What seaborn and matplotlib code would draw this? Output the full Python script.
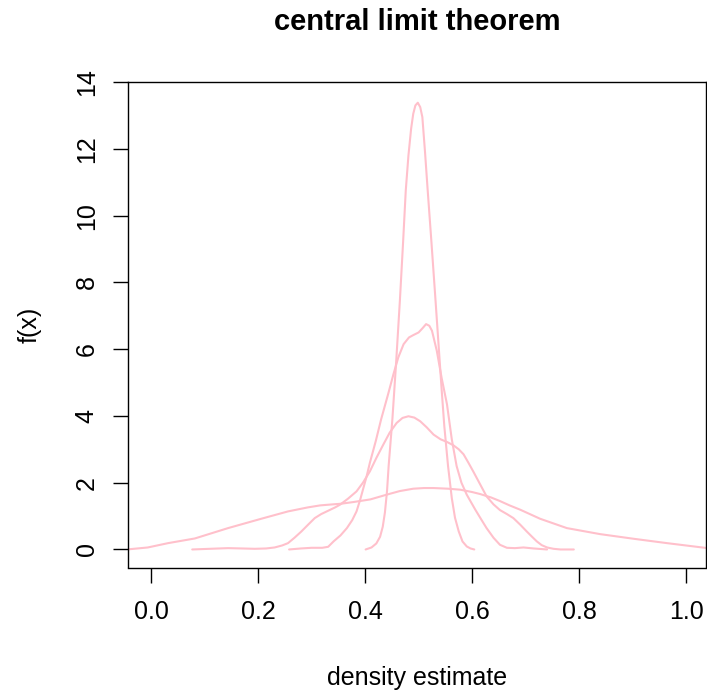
import matplotlib
matplotlib.use("Agg")
import matplotlib.pyplot as plt
import seaborn as sns
import pandas as pd

# density curves of sample means
a_x = [-0.045, -0.006, 0.032, 0.082, 0.144, 0.206, 0.256, 0.293, 0.316, 0.331, 0.355, 0.378,
       0.41, 0.44, 0.465, 0.49, 0.51, 0.528, 0.555, 0.578, 0.6, 0.615, 0.635, 0.652, 0.67,
       0.69, 0.727, 0.777, 0.839, 0.902, 0.964, 1.045]
a_y = [0.0, 0.06, 0.19, 0.33, 0.64, 0.92, 1.14, 1.26, 1.32, 1.34, 1.37, 1.42,
       1.5, 1.64, 1.75, 1.82, 1.84, 1.84, 1.82, 1.79, 1.72, 1.66, 1.56, 1.45, 1.32,
       1.19, 0.92, 0.64, 0.46, 0.32, 0.19, 0.03]

b_x = [0.077, 0.11, 0.144, 0.17, 0.194, 0.215, 0.231, 0.245, 0.256, 0.268, 0.281, 0.294,
       0.306, 0.318, 0.331, 0.344, 0.353, 0.368, 0.384, 0.396, 0.409, 0.421, 0.434, 0.446,
       0.459, 0.47, 0.481, 0.492, 0.503, 0.515, 0.528, 0.541, 0.553, 0.565, 0.575, 0.584,
       0.593, 0.602, 0.615, 0.627, 0.64, 0.652, 0.665, 0.677, 0.69, 0.702, 0.712, 0.721,
       0.73, 0.74, 0.752, 0.765, 0.79]
b_y = [0.0, 0.02, 0.04, 0.03, 0.02, 0.03, 0.06, 0.12, 0.19, 0.35, 0.54, 0.75,
       0.94, 1.06, 1.16, 1.26, 1.34, 1.52, 1.74, 2.0, 2.34, 2.74, 3.14, 3.5,
       3.79, 3.94, 3.99, 3.95, 3.84, 3.66, 3.44, 3.3, 3.22, 3.12, 3.0, 2.85,
       2.6, 2.34, 1.95, 1.59, 1.35, 1.18, 1.06, 0.94, 0.74, 0.54, 0.38, 0.24,
       0.13, 0.06, 0.02, 0.0, 0.0]

c_x = [0.258, 0.28, 0.30, 0.32, 0.331, 0.341, 0.354, 0.366, 0.376, 0.384, 0.391, 0.397,
       0.403, 0.409, 0.42, 0.43, 0.443, 0.453, 0.462, 0.472, 0.482, 0.49, 0.5,
       0.507, 0.514, 0.52, 0.525, 0.534, 0.543, 0.553, 0.562, 0.571, 0.58, 0.59, 0.606,
       0.617, 0.627, 0.64, 0.652, 0.665, 0.68, 0.696, 0.715, 0.74]
c_y = [0.0, 0.03, 0.05, 0.05, 0.08, 0.24, 0.42, 0.64, 0.88, 1.14, 1.5, 1.85,
       2.2, 2.6, 3.25, 3.9, 4.65, 5.25, 5.75, 6.15, 6.35, 6.42, 6.5,
       6.62, 6.75, 6.7, 6.55, 5.95, 5.14, 4.35, 3.3, 2.5, 2.0, 1.64, 1.19,
       0.9, 0.64, 0.35, 0.14, 0.05, 0.04, 0.06, 0.03, 0.0]

d_x = [0.401, 0.412, 0.421, 0.428, 0.433, 0.437, 0.441, 0.444, 0.451, 0.458, 0.465, 0.471,
       0.476, 0.481, 0.486, 0.490, 0.494, 0.4985, 0.503, 0.507, 0.512, 0.517, 0.524, 0.531,
       0.537, 0.543, 0.548, 0.555, 0.562, 0.568, 0.575, 0.582, 0.59, 0.597, 0.604]
d_y = [0.0, 0.06, 0.18, 0.38, 0.68, 1.1, 1.75, 2.5, 3.9, 5.6, 7.45, 9.2,
       10.75, 11.8, 12.6, 13.05, 13.3, 13.38, 13.25, 12.95, 11.9, 10.75, 9.2, 7.6,
       6.2, 4.8, 3.7, 2.5, 1.54, 0.95, 0.54, 0.24, 0.09, 0.03, 0.0]

x_ticks = [0.0, 0.2, 0.4, 0.6, 0.8, 1.0]
y_ticks = [0, 2, 4, 6, 8, 10, 12, 14]

frames = []
for name, xs, ys in [("a", a_x, a_y), ("b", b_x, b_y), ("c", c_x, c_y), ("d", d_x, d_y)]:
    frames.append(pd.DataFrame({"curve": name, "x": xs, "y": ys}))
df = pd.concat(frames, ignore_index=True)

sns.set_style("white")
plt.rcParams["font.family"] = ["Liberation Sans", "DejaVu Sans"]
plt.rcParams["text.color"] = "black"
plt.rcParams["axes.labelcolor"] = "black"

W, H = 707, 690
fig = plt.figure(figsize=(W / 100, H / 100), dpi=100)
ax = fig.add_axes([128 / W, 1 - 567.5 / H, (706 - 128) / W, (567.5 - 81.7) / H])

sns.lineplot(data=df, x="x", y="y", units="curve", estimator=None, sort=False,
             color="#FFC0CB", linewidth=1.5, ax=ax)

ax.set_xlim(-0.043, 1.037)
ax.set_ylim(-0.54, 14.01)
ax.set_xticks(x_ticks)
ax.set_xticklabels([f"{v:.1f}" for v in x_ticks])
ax.set_yticks(y_ticks)
ax.set_yticklabels([str(v) for v in y_ticks], rotation=90, va="center")
ax.tick_params(axis="both", direction="out", length=11, width=1, color="black",
               labelsize=18, labelcolor="black", bottom=True, left=True)
ax.tick_params(axis="x", pad=12.5)
ax.tick_params(axis="y", pad=10)
for s in ax.spines.values():
    s.set_visible(True)
    s.set_color("black")
    s.set_linewidth(1)

ax.set_xlabel("density estimate", fontsize=18, labelpad=30, color="black")
ax.set_ylabel("f(x)", fontsize=18, labelpad=24, color="black")
ax.set_title("central limit theorem", fontsize=21, fontweight="bold", pad=37.5, color="black")

fig.savefig("out.png", dpi=100)
